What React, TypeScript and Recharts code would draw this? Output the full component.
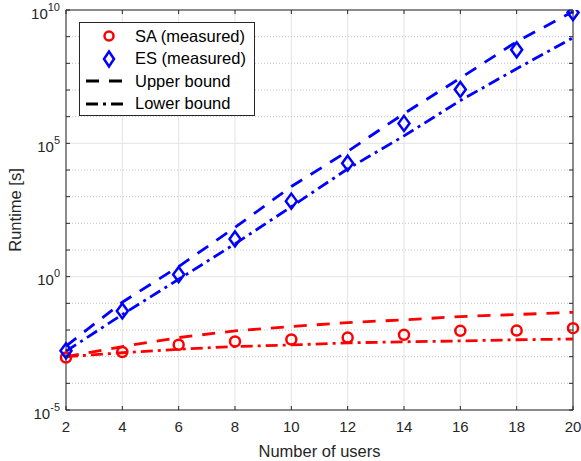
import React from "react";
import {
  ComposedChart,
  Line,
  XAxis,
  YAxis,
  CartesianGrid,
  ReferenceLine,
} from "recharts";

const users = [2, 4, 6, 8, 10, 12, 14, 16, 18, 20];

const saMeasured = [9.3e-4, 1.5e-3, 2.8e-3, 3.7e-3, 4.4e-3, 5.2e-3, 6.6e-3, 9.3e-3, 9.5e-3, 1.17e-2];
const esMeasured = [1.66e-3, 5.2e-2, 1.2, 26, 680, 1.8e4, 5.6e5, 1.05e7, 3.2e8, 8e9];
const saUpper = [1.0e-3, 2.4e-3, 5.2e-3, 9.3e-3, 1.35e-2, 1.9e-2, 2.4e-2, 3.2e-2, 3.8e-2, 4.6e-2];
const saLower = [1.0e-3, 1.4e-3, 1.9e-3, 2.4e-3, 2.75e-3, 3.3e-3, 3.6e-3, 3.9e-3, 4.3e-3, 4.6e-3];
const esUpper = [2.5e-3, 0.11, 2.4, 70, 2.4e3, 5e4, 1.3e6, 2.8e7, 6.5e8, 8.7e9];
const esLower = [1.6e-3, 3.8e-2, 0.8, 17, 420, 1.1e4, 1.9e5, 4e6, 6.3e7, 9.1e8];

const xTicks = [2, 4, 6, 8, 10, 12, 14, 16, 18, 20];
const yTicks = [1e-5, 1e-4, 1e-3, 1e-2, 1e-1, 1, 1e1, 1e2, 1e3, 1e4, 1e5, 1e6, 1e7, 1e8, 1e9, 1e10];

const rows = users.map((u, i) => ({
  users: u,
  saMeasured: saMeasured[i],
  esMeasured: esMeasured[i],
  saUpper: saUpper[i],
  saLower: saLower[i],
  esUpper: esUpper[i],
  esLower: esLower[i],
}));

const W = 581;
const H = 461;
const PLOT_LEFT = 66;
const PLOT_RIGHT = 573;
const PLOT_TOP = 10;
const PLOT_BOTTOM = 410;

const AXIS = "#262626";
const FONT = "'Liberation Sans', Arial, Helvetica, sans-serif";
const RED = "#ff0000";
const BLUE = "#0000ff";
const DASH = "13 10";
const DASHDOT = "12 5 3 5";
const LW = 2.8;

const YTick = (props: any) => {
  const { y, payload } = props;
  const exp = Math.round(Math.log10(payload.value));
  return (
    <g>
      <line x1={PLOT_LEFT} x2={PLOT_LEFT + 4} y1={y} y2={y} stroke={AXIS} />
      <line x1={PLOT_RIGHT} x2={PLOT_RIGHT - 4} y1={y} y2={y} stroke={AXIS} />
      {exp % 5 === 0 && (
        <text x={PLOT_LEFT - 6} y={y + 8.5} textAnchor="end" fill={AXIS} fontSize={15} fontFamily={FONT}>
          10
          <tspan dy={-8} fontSize={11}>
            {exp}
          </tspan>
        </text>
      )}
    </g>
  );
};

const XTick = (props: any) => {
  const { x, payload } = props;
  return (
    <g>
      <line x1={x} x2={x} y1={PLOT_BOTTOM} y2={PLOT_BOTTOM - 4} stroke={AXIS} />
      <line x1={x} x2={x} y1={PLOT_TOP} y2={PLOT_TOP + 4} stroke={AXIS} />
      <text x={x} y={PLOT_BOTTOM + 22} textAnchor="middle" fill={AXIS} fontSize={15} fontFamily={FONT}>
        {payload.value}
      </text>
    </g>
  );
};

const Diamond = (props: any) => {
  const { cx, cy, stroke } = props;
  if (cx == null || cy == null) return null;
  return (
    <path
      d={`M${cx},${cy - 7.5} L${cx + 5.5},${cy} L${cx},${cy + 7.5} L${cx - 5.5},${cy} Z`}
      fill="none"
      stroke={stroke}
      strokeWidth={2.5}
    />
  );
};

const Ring = (props: any) => {
  const { cx, cy, stroke } = props;
  if (cx == null || cy == null) return null;
  return <circle cx={cx} cy={cy} r={5} fill="none" stroke={stroke} strokeWidth={2.5} />;
};

const legendItems = [
  { label: "SA (measured)", kind: "circle" },
  { label: "ES (measured)", kind: "diamond" },
  { label: "Upper bound", kind: "dash" },
  { label: "Lower bound", kind: "dashdot" },
];

const LegendBox = () => (
  <div
    style={{
      position: "absolute",
      left: 79,
      top: 22,
      width: 176,
      height: 94,
      background: "#fff",
      border: `1px solid ${AXIS}`,
      boxSizing: "border-box",
      fontFamily: FONT,
      fontSize: 16.5,
      color: "#000",
      paddingTop: 2,
    }}
  >
    {legendItems.map((it) => (
      <div key={it.label} style={{ display: "flex", alignItems: "center", height: 22.5 }}>
        <svg width={54} height={20} style={{ flex: "none" }}>
          {it.kind === "circle" && (
            <circle cx={29} cy={10} r={4.5} fill="none" stroke={RED} strokeWidth={2.5} />
          )}
          {it.kind === "diamond" && (
            <path d="M29,2.5 L34,10 L29,17.5 L24,10 Z" fill="none" stroke={BLUE} strokeWidth={2.5} />
          )}
          {it.kind === "dash" && (
            <line x1={6} x2={48} y1={10} y2={10} stroke="#000" strokeWidth={LW} strokeDasharray="13 10" />
          )}
          {it.kind === "dashdot" && (
            <line x1={6} x2={48} y1={10} y2={10} stroke="#000" strokeWidth={LW} strokeDasharray={DASHDOT} />
          )}
        </svg>
        <span style={{ marginLeft: 1, whiteSpace: "nowrap" }}>{it.label}</span>
      </div>
    ))}
  </div>
);

export default function App() {
  return (
    <div style={{ position: "absolute", left: 0, top: 0, width: W, height: H, background: "#fff" }}>
      <ComposedChart
        width={W}
        height={H}
        data={rows}
        margin={{ top: PLOT_TOP, right: W - PLOT_RIGHT, left: 0, bottom: 0 }}
      >
        <CartesianGrid horizontal={false} stroke="#e3e3e3" strokeWidth={1} />
        {yTicks.map((t) => {
          const exp = Math.round(Math.log10(t));
          const major = exp % 5 === 0;
          return (
            <ReferenceLine
              key={t}
              y={t}
              stroke={major ? "#e3e3e3" : "#c4c4c4"}
              strokeWidth={1}
              strokeDasharray={major ? undefined : "1 2"}
            />
          );
        })}
        <XAxis
          dataKey="users"
          type="number"
          domain={[2, 20]}
          ticks={xTicks}
          height={H - PLOT_BOTTOM}
          tickSize={0}
          tickMargin={0}
          tick={<XTick />}
          stroke={AXIS}
          axisLine={{ stroke: AXIS }}
          label={{
            value: "Number of users",
            position: "insideBottom",
            offset: 4,
            style: { fill: AXIS, fontSize: 16.5, fontFamily: FONT },
          }}
        />
        <YAxis
          type="number"
          scale="log"
          domain={[1e-5, 1e10]}
          allowDataOverflow
          ticks={yTicks}
          interval={0}
          width={PLOT_LEFT}
          tickSize={0}
          tickMargin={6}
          tick={<YTick />}
          axisLine={{ stroke: AXIS }}
          label={{
            value: "Runtime [s]",
            angle: -90,
            position: "insideLeft",
            offset: 15,
            style: { fill: AXIS, fontSize: 16.5, fontFamily: FONT, textAnchor: "middle" },
          }}
        />
        <ReferenceLine y={1e10} stroke={AXIS} strokeWidth={1} />
        <ReferenceLine x={20} stroke={AXIS} strokeWidth={1} />
        <Line
          dataKey="saMeasured"
          stroke={RED}
          strokeWidth={0}
          strokeOpacity={0}
          dot={<Ring stroke={RED} />}
          isAnimationActive={false}
        />
        <Line
          dataKey="esMeasured"
          stroke={BLUE}
          strokeWidth={0}
          strokeOpacity={0}
          dot={<Diamond stroke={BLUE} />}
          isAnimationActive={false}
        />
        <Line dataKey="saUpper" stroke={RED} strokeWidth={LW} strokeDasharray={DASH} dot={false} isAnimationActive={false} />
        <Line dataKey="esUpper" stroke={BLUE} strokeWidth={LW} strokeDasharray={DASH} dot={false} isAnimationActive={false} />
        <Line dataKey="saLower" stroke={RED} strokeWidth={LW} strokeDasharray={DASHDOT} dot={false} isAnimationActive={false} />
        <Line dataKey="esLower" stroke={BLUE} strokeWidth={LW} strokeDasharray={DASHDOT} dot={false} isAnimationActive={false} />
      </ComposedChart>
      <LegendBox />
    </div>
  );
}
